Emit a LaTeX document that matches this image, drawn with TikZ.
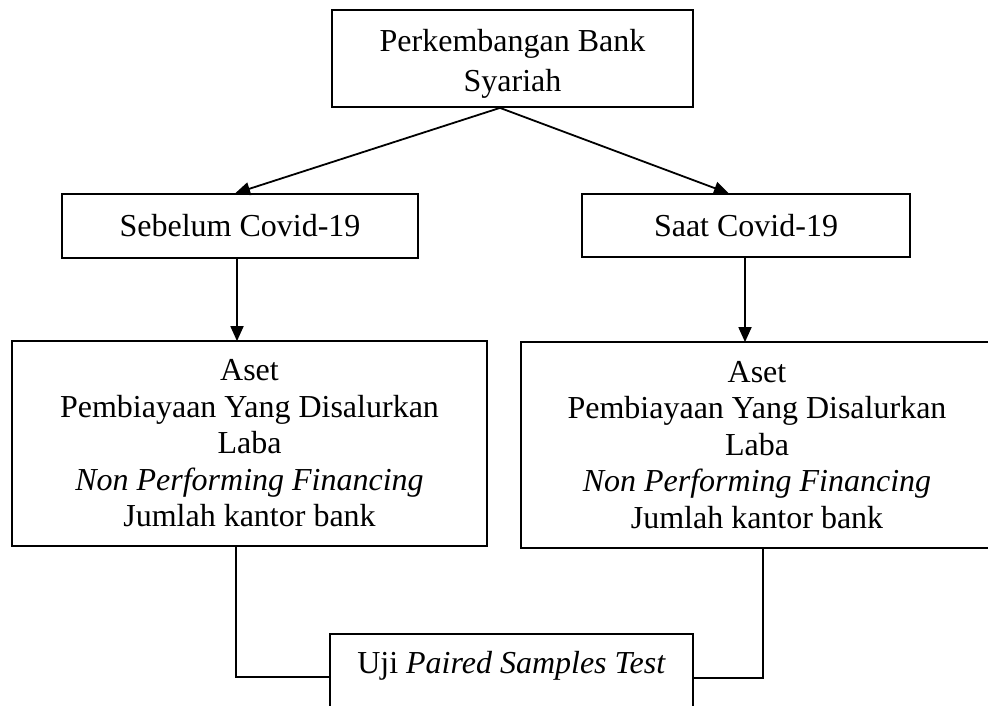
\documentclass[tikz,border=0pt]{standalone}
\usepackage{fontspec}
\setmainfont{Liberation Serif}
\usetikzlibrary{arrows.meta,calc}

\tikzset{
  box/.style={draw, line width=1.8pt, rectangle, inner sep=0pt, align=center,
              font=\fontsize{32}{36.5}\selectfont},
  link/.style={line width=1.8pt},
  arr/.style={link, -{Triangle[length=15pt,width=13pt]}, shorten >=-1pt}
}

\begin{document}
\begin{tikzpicture}[x=1pt,y=-1pt]
  \path[use as bounding box] (0,0) rectangle (988,706);
  \clip (0,0) rectangle (988,706);

  % title box
  \node[box, minimum width=361pt, minimum height=97pt,
        text height=74pt, text depth=7pt,
        font=\fontsize{32}{40}\selectfont] (top) at (512.5,58.5)
        {Perkembangan Bank\\Syariah};

  % period boxes
  \node[box, minimum width=356pt, minimum height=64pt] (sebelum) at (240,226)
        {Sebelum Covid-19};
  \node[box, minimum width=328pt, minimum height=63pt] (saat) at (746,225.5)
        {Saat Covid-19};

  % indicator boxes
  \node[box, minimum width=475pt, minimum height=205pt] (bigL) at (249.5,443.5)
        {Aset\\Pembiayaan Yang Disalurkan\\Laba\\\textit{Non Performing Financing}\\Jumlah kantor bank};
  \node[box, minimum width=472pt, minimum height=206pt] (bigR) at (757,445)
        {Aset\\Pembiayaan Yang Disalurkan\\Laba\\\textit{Non Performing Financing}\\Jumlah kantor bank};

  % test box
  \node[box, minimum width=363pt, minimum height=80pt, anchor=north,
        text height=12pt, text depth=12pt] (uji) at (511.5,633)
        {Uji \textit{Paired Samples Test}};

  % connectors
  \draw[arr] ([xshift=-12.5pt]top.south) -- ([xshift=-4pt]sebelum.north);
  \draw[arr] ([xshift=-12.5pt]top.south) -- ([xshift=-18pt]saat.north);
  \draw[arr] ([xshift=-3pt]sebelum.south) -- ([xshift=-3pt]sebelum.south |- bigL.north);
  \draw[arr] ([xshift=-1pt]saat.south) -- ([xshift=-1pt]saat.south |- bigR.north);
  \draw[link] ([xshift=-13.5pt]bigL.south) |- ([yshift=-3pt]uji.west);
  \draw[link] ([xshift=6pt]bigR.south) |- ([yshift=-4pt]uji.east);
\end{tikzpicture}
\end{document}
